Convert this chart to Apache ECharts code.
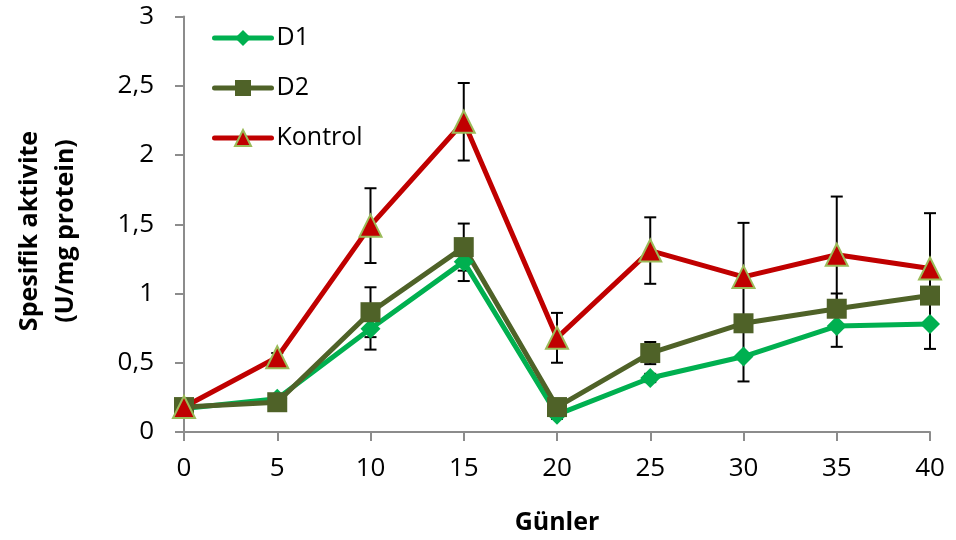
<!DOCTYPE html>
<html>
<head>
<meta charset="utf-8">
<script src="https://cdn.jsdelivr.net/npm/echarts@6/dist/echarts.min.js"></script>
<style>
  html, body { margin: 0; padding: 0; background: #fff; }
  #chart { width: 956px; height: 540px; }
</style>
</head>
<body>
<div id="chart"></div>
<script>
// Günler (x), spesifik aktivite değerleri ve hata payları
const days = [0, 5, 10, 15, 20, 25, 30, 35, 40];
const d1 = [0.17, 0.24, 0.745, 1.23, 0.125, 0.39, 0.545, 0.765, 0.78];
const d1Err = [0.02, 0.02, 0.15, 0.14, 0.03, 0.03, 0.18, 0.15, 0.18];
const d2 = [0.18, 0.215, 0.865, 1.335, 0.18, 0.57, 0.785, 0.89, 0.985];
const d2Err = [0.02, 0.02, 0.18, 0.17, 0.03, 0.08, 0.05, 0.11, 0.06];
const kontrol = [0.18, 0.54, 1.49, 2.24, 0.68, 1.31, 1.12, 1.28, 1.18];
const kontrolErr = [0.02, 0.03, 0.27, 0.28, 0.18, 0.24, 0.39, 0.42, 0.40];
const yTicks = [0, 0.5, 1, 1.5, 2, 2.5, 3];

const FONT = "'Open Sans', 'Noto Sans', sans-serif";

const chart = echarts.init(document.getElementById("chart"), null, { renderer: "canvas" });

// hata çubukları için [x, alt, üst] dizisi
function errData(vals, errs) {
  return days.map((d, i) => [d, vals[i] - errs[i], vals[i] + errs[i]]);
}

function errSeries(name, vals, errs) {
  return {
    type: "custom",
    name: name + "_err",
    z: 1,
    silent: true,
    renderItem: function (params, api) {
      const x = api.value(0);
      const lo = api.coord([x, api.value(1)]);
      const hi = api.coord([x, api.value(2)]);
      const cap = 6;
      const style = { stroke: "#000", lineWidth: 2 };
      return {
        type: "group",
        children: [
          { type: "line", shape: { x1: lo[0], y1: lo[1], x2: hi[0], y2: hi[1] }, style },
          { type: "line", shape: { x1: lo[0] - cap, y1: lo[1], x2: lo[0] + cap, y2: lo[1] }, style },
          { type: "line", shape: { x1: hi[0] - cap, y1: hi[1], x2: hi[0] + cap, y2: hi[1] }, style }
        ]
      };
    },
    data: errData(vals, errs)
  };
}

function lineSeries(name, vals, color, symbol, size, border) {
  return {
    type: "line",
    name: name,
    z: 3,
    data: days.map((d, i) => [d, vals[i]]),
    symbol: symbol,
    symbolSize: size,
    showAllSymbol: true,
    lineStyle: { color: color, width: 5 },
    itemStyle: { color: color, borderColor: border || color, borderWidth: border ? 2 : 0 },
    emphasis: { disabled: true },
    animation: false
  };
}

const option = {
  animation: false,
  grid: { left: 184, right: 26, top: 16.5, bottom: 107.7, containLabel: false },
  legend: {
    orient: "vertical",
    left: 207,
    top: 18,
    itemWidth: 57,
    itemHeight: 20,
    itemGap: 20,
    data: ["D1", "D2", "Kontrol"],
    lineStyle: { width: 5, cap: "round" },
    textStyle: { fontFamily: FONT, fontSize: 25, color: "#000", lineHeight: 30 }
  },
  xAxis: {
    type: "value",
    min: 0,
    max: 40,
    interval: 5,
    name: "Günler",
    nameLocation: "middle",
    nameGap: 78,
    nameTextStyle: { fontFamily: FONT, fontSize: 25, fontWeight: "bold", color: "#000" },
    axisLine: { lineStyle: { color: "#8c8c8c", width: 2 } },
    axisTick: { length: 9, lineStyle: { color: "#8c8c8c", width: 2 } },
    axisLabel: { fontFamily: FONT, fontSize: 26, color: "#000", margin: 24 },
    splitLine: { show: false }
  },
  yAxis: {
    type: "value",
    min: 0,
    max: 3,
    interval: 0.5,
    axisLine: { show: true, lineStyle: { color: "#8c8c8c", width: 2 } },
    axisTick: { show: true, length: 9, lineStyle: { color: "#8c8c8c", width: 2 } },
    axisLabel: {
      fontFamily: FONT, fontSize: 26, color: "#000", margin: 30,
      formatter: v => yTicks.includes(v) ? String(v).replace(".", ",") : ""
    },
    splitLine: { show: false }
  },
  graphic: [
    {
      type: "text",
      x: 48,
      y: 231,
      rotation: Math.PI / 2,
      style: {
        text: "Spesifik aktivite\n(U/mg protein)",
        fontFamily: FONT,
        fontSize: 25,
        fontWeight: "bold",
        lineHeight: 36,
        fill: "#000",
        align: "center",
        verticalAlign: "middle"
      }
    }
  ],
  series: [
    errSeries("D1", d1, d1Err),
    errSeries("D2", d2, d2Err),
    errSeries("Kontrol", kontrol, kontrolErr),
    lineSeries("D1", d1, "#00B050", "diamond", 20),
    lineSeries("D2", d2, "#4F6228", "rect", 20),
    lineSeries("Kontrol", kontrol, "#C00000", "triangle", 22, "#9BBB59")
  ]
};

chart.setOption(option);
</script>
</body>
</html>
